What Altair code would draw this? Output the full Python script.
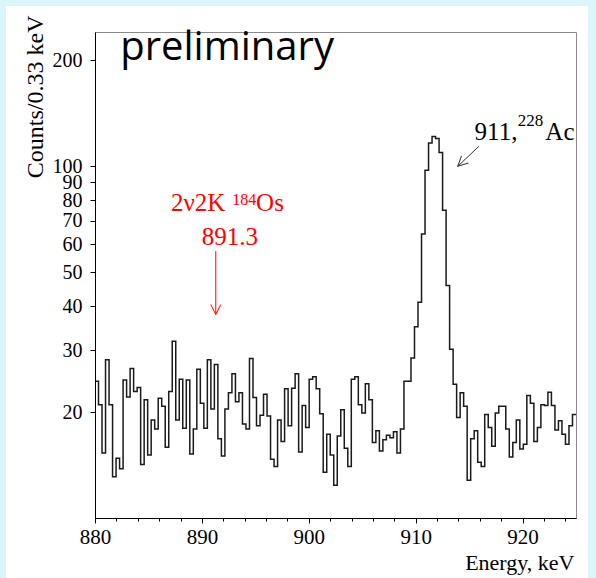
import altair as alt
import pandas as pd

# ---- data: counts per bin (880-925 keV) ----
counts_a = [24.5, 21.0, 15.3, 28.2, 21.0, 13.1, 14.8, 13.8, 24.7, 22.1, 26.6, 22.9, 23.5, 14.2,
            21.7, 15.1, 19.0, 17.9, 21.9, 20.8, 15.9, 22.9, 31.8, 19.0, 24.8, 18.0, 24.7]
counts_b = [15.2, 17.9, 26.5, 21.2, 18.0, 28.2, 20.4, 27.3, 16.8, 15.0, 20.4, 22.7, 25.7, 21.4,
            22.7, 18.5, 17.9, 28.4, 22.0, 18.3, 19.6, 22.5, 19.5, 14.7, 14.0, 19.0, 16.5, 23.3,
            18.3, 23.4]
counts_c = [25.7, 15.4, 20.9, 18.1, 24.8, 25.2, 23.3, 19.8, 13.5, 17.3, 15.1, 12.4, 17.1, 20.3,
            15.8, 14.0, 24.8, 25.2, 21.0, 19.9, 24.1, 21.7, 16.4, 17.7, 15.5, 16.7, 17.2, 16.9,
            17.6, 15.3]
counts_peak = [17.9, 24.5, 24.5, 28.5, 35.0, 41.1, 64.2, 97.4, 116.6, 121.5, 120.0, 109.4, 75.0,
               45.8, 30.2, 24.0, 19.3, 22.7, 20.8]
counts_d = [12.8, 16.8, 17.7, 14.4, 14.0, 19.7, 18.1, 16.0, 19.9, 20.8, 20.8, 17.9, 14.9, 16.4,
            19.0, 15.7, 16.2, 22.3, 21.2, 16.5, 18.1, 21.0, 20.9, 22.8, 20.9, 17.8, 18.9, 17.3,
            16.2, 18.3, 19.7]

x_major = [880, 890, 900, 910, 920]
x_minor = list(range(880, 925, 2))
y_ticks = [20, 30, 40, 50, 60, 70, 80, 90, 100, 200]

E_MIN, E_MAX = 880.0, 925.0
counts = counts_a + counts_b + counts_c + counts_peak + counts_d
n = len(counts)
bw = (E_MAX - E_MIN) / n
edges = [E_MIN + i * bw for i in range(n)] + [E_MAX]
df = pd.DataFrame({"energy": edges, "counts": counts + [counts[-1]]})

W, H = 481, 486
SERIF = "Liberation Serif"

xscale = alt.Scale(domain=[E_MIN, E_MAX], nice=False, zero=False)
yscale = alt.Scale(type="log", domain=[10, 241], nice=False)

x_axis = alt.Axis(
    values=x_minor,
    labelExpr="datum.value % 10 === 0 ? datum.label : ''",
    tickSize={"condition": {"test": "datum.value % 10 === 0", "value": 5}, "value": 3},
    labelFont=SERIF, labelFontSize=21, labelColor="black", labelPadding=3,
    labelFlush=False, labelOverlap=False,
    tickColor="black", domainColor="black", grid=False, zindex=1,
    title="Energy, keV", titleFont=SERIF, titleFontSize=22, titleFontWeight="normal",
    titleColor="black", titleAlign="right", titleBaseline="alphabetic",
    titleX=W - 2, titleY=51,
)
y_axis = alt.Axis(
    values=y_ticks, format="d", labelOverlap=False,
    tickSize=5, labelPadding=8, labelFont=SERIF, labelFontSize=20, labelColor="black",
    tickColor="black", domainColor="black", grid=False, zindex=1,
    title="Counts/0.33 keV", titleFont=SERIF, titleFontSize=24, titleFontWeight="normal",
    titleColor="black", titleAngle=270, titleAlign="right", titleBaseline="alphabetic",
    titleX=-53, titleY=-17,
)


def X(field="energy"):
    return alt.X(f"{field}:Q", scale=xscale, axis=x_axis)


def Y(field="counts"):
    return alt.Y(f"{field}:Q", scale=yscale, axis=y_axis)


hist = alt.Chart(df).mark_line(
    interpolate="step-after", color="#1a1a1a", strokeWidth=1.5, clip=True
).encode(x=X(), y=Y())

one = pd.DataFrame({"a": [0]})
CYAN = "#dbf6fb"
strip_left = alt.Chart(one).mark_rect(color=CYAN).encode(
    x=alt.value(-95), x2=alt.value(-89), y=alt.value(-32), y2=alt.value(546))
strip_top = alt.Chart(one).mark_rect(color=CYAN).encode(
    x=alt.value(-95), x2=alt.value(501), y=alt.value(-32), y2=alt.value(-26))
strip_right = alt.Chart(one).mark_rect(color=CYAN).encode(
    x=alt.value(493), x2=alt.value(501), y=alt.value(-32), y2=alt.value(546))


def text_layer(e, c, label, size, color, align="left"):
    d = pd.DataFrame({"energy": [e], "counts": [c], "label": [label]})
    return alt.Chart(d).mark_text(
        font=SERIF, fontSize=size, color=color, align=align, baseline="alphabetic"
    ).encode(x=X(), y=Y(), text="label:N")


RED = "#ff0000"
red_txt = [
    text_layer(887.11, 74.5, "2ν2K", 25, RED),
    text_layer(892.85, 77.8, "184", 16, RED),
    text_layer(895.07, 74.5, "Os", 25, RED),
    text_layer(892.61, 59.6, "891.3", 25, RED, align="center"),
]
blk_txt = [
    text_layer(915.51, 119.1, "911,", 25, "black"),
    text_layer(919.56, 130.5, "228", 17, "black"),
    text_layer(922.13, 119.1, "Ac", 25, "black"),
]

red_arrow_df = pd.DataFrame({"energy": [891.3], "counts": [57.4], "energy2": [891.3], "counts2": [37.9]})
red_rule = alt.Chart(red_arrow_df).mark_rule(color=RED, strokeWidth=1).encode(
    x=X(), y=Y(), x2="energy2:Q", y2="counts2:Q")
HEAD = "M -0.5 -1 L 0 0 L 0.5 -1"
red_head = alt.Chart(red_arrow_df).mark_point(
    shape=HEAD, filled=False, size=400, color=RED, strokeWidth=1, opacity=1
).encode(x=alt.X("energy2:Q", scale=xscale, axis=x_axis), y=alt.Y("counts2:Q", scale=yscale, axis=y_axis))

blk_arrow_df = pd.DataFrame({"energy": [915.91], "counts": [114.0], "energy2": [913.94], "counts2": [100.0]})
blk_rule = alt.Chart(blk_arrow_df).mark_rule(color="#333333", strokeWidth=1).encode(
    x=X(), y=Y(), x2="energy2:Q", y2="counts2:Q")
blk_head = alt.Chart(blk_arrow_df).mark_point(
    shape=HEAD, filled=False, size=400, color="#333333", strokeWidth=1, opacity=1, angle=46
).encode(x=alt.X("energy2:Q", scale=xscale, axis=x_axis), y=alt.Y("counts2:Q", scale=yscale, axis=y_axis))

prelim = alt.Chart(pd.DataFrame({"energy": [882.36], "counts": [201.0], "label": ["preliminary"]})).mark_text(
    font="Open Sans", fontSize=40, color="black", align="left", baseline="alphabetic"
).encode(x=X(), y=Y(), text="label:N")

chart = alt.layer(
    strip_left, strip_top, strip_right, hist, *red_txt, red_rule, red_head,
    *blk_txt, blk_rule, blk_head, prelim,
).properties(
    width=W, height=H,
    autosize=alt.AutoSizeParams(type="none"),
    padding={"left": 95, "top": 32, "right": 20, "bottom": 60},
    background="white",
).configure_view(stroke="#8a8a8a", strokeWidth=1)

chart.save("out.html", embed_options={"renderer": "svg", "actions": False})
